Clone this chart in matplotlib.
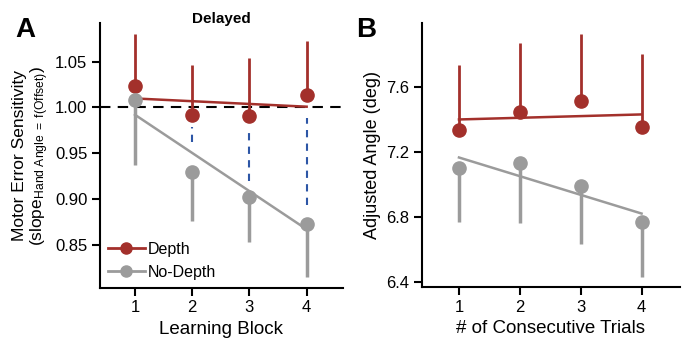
import matplotlib
matplotlib.use('Agg')
import matplotlib.pyplot as plt
import numpy as np

plt.rcParams['font.family'] = ['Liberation Sans', 'DejaVu Sans']
plt.rcParams['mathtext.fontset'] = 'custom'
plt.rcParams['mathtext.rm'] = 'Liberation Sans'
plt.rcParams['mathtext.it'] = 'Liberation Sans'

red = '#a3302b'
gray = '#9b9b9b'
blue = '#2d56a6'

# panel A (Delayed)
blocks = [1, 2, 3, 4]
depth_a = [1.023, 0.992, 0.991, 1.014]
depth_a_top = [1.080, 1.046, 1.054, 1.072]
nodepth_a = [1.008, 0.930, 0.902, 0.873]
nodepth_a_bot = [0.937, 0.876, 0.853, 0.815]
depth_a_fit = [1.0098, 1.0008]
nodepth_a_fit = [0.992, 0.867]
gap_x = [2, 3, 4]
gap_top = [0.979, 0.975, 0.988]
gap_bot = [0.962, 0.920, 0.893]

# panel B
trials = [1, 2, 3, 4]
depth_b = [7.334, 7.444, 7.512, 7.354]
depth_b_top = [7.733, 7.867, 7.922, 7.803]
nodepth_b = [7.103, 7.128, 6.987, 6.765]
nodepth_b_bot = [6.766, 6.762, 6.632, 6.431]
depth_b_fit = [7.399, 7.430]
nodepth_b_fit = [7.165, 6.820]

fig = plt.figure(figsize=(6.84, 3.4), dpi=100)
axA = fig.add_axes([0.146, 0.153, 0.355, 0.779])
axB = fig.add_axes([0.617, 0.155, 0.377, 0.777])


def style(ax):
    for s in ['top', 'right']:
        ax.spines[s].set_visible(False)
    for s in ['left', 'bottom']:
        ax.spines[s].set_linewidth(1.5)
    ax.tick_params(width=1.5, length=5.5, labelsize=12)


def draw(ax, x, dm, dtop, nm, nbot, dfit, nfit):
    dm = np.array(dm); nm = np.array(nm)
    ax.errorbar(x, dm, yerr=[np.zeros(4), np.array(dtop) - dm], fmt='none',
                ecolor=red, elinewidth=2, capsize=0, zorder=3)
    ax.errorbar(x, nm, yerr=[nm - np.array(nbot), np.zeros(4)], fmt='none',
                ecolor=gray, elinewidth=2.5, capsize=0, zorder=3)
    ax.plot([x[0], x[-1]], dfit, color=red, lw=1.8, zorder=4)
    ax.plot([x[0], x[-1]], nfit, color=gray, lw=1.8, zorder=4)
    ax.plot(x, dm, 'o', color=red, ms=9.5, zorder=5)
    ax.plot(x, nm, 'o', color=gray, ms=9.5, zorder=5)


style(axA)
axA.axhline(1.0, color='black', lw=1.5, ls=(0, (5, 3.5)), zorder=2)
axA.vlines(gap_x, gap_bot, gap_top, color=blue, lw=1.5, linestyles=(0, (3.5, 3)), zorder=2)
draw(axA, blocks, depth_a, depth_a_top, nodepth_a, nodepth_a_bot, depth_a_fit, nodepth_a_fit)
axA.plot([], [], '-o', color=red, ms=8, lw=2, label='Depth')
axA.plot([], [], '-o', color=gray, ms=8, lw=2, label='No-Depth')
axA.legend(loc='lower left', frameon=False, fontsize=11.5, handlelength=2.3,
           handletextpad=0.2, borderaxespad=0.1, labelspacing=0.5)
axA.set_xlim(0.386, 4.63)
axA.set_ylim(0.803, 1.092)
axA.set_xticks(blocks)
axA.set_yticks([0.85, 0.90, 0.95, 1.00, 1.05])
axA.set_yticklabels(['0.85', '0.90', '0.95', '1.00', '1.05'])
axA.set_xlabel('Learning Block', fontsize=13.5, labelpad=4)
axA.set_ylabel('Motor Error Sensitivity\n(slope$_{\\mathrm{Hand\\ Angle\\ =\\ f(Offset)}}$)',
               fontsize=12.5, labelpad=3, linespacing=1.05)
fig.text(0.324, 0.945, 'Delayed', fontsize=11, fontweight='bold', ha='center', va='center')

style(axB)
draw(axB, trials, depth_b, depth_b_top, nodepth_b, nodepth_b_bot, depth_b_fit, nodepth_b_fit)
axB.set_xlim(0.393, 4.63)
axB.set_ylim(6.366, 7.992)
axB.set_xticks(trials)
axB.set_yticks([6.4, 6.8, 7.2, 7.6])
axB.set_xlabel('# of Consecutive Trials', fontsize=13.5, labelpad=4)
axB.set_ylabel('Adjusted Angle (deg)', fontsize=13, labelpad=4)

fig.text(0.022, 0.95, 'A', fontsize=20, fontweight='bold', va='top')
fig.text(0.521, 0.95, 'B', fontsize=20, fontweight='bold', va='top')

fig.savefig('out.png', dpi=100)
